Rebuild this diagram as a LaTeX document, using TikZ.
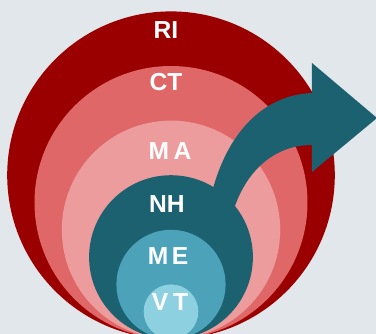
\documentclass[tikz,border=0pt]{standalone}
\usepackage{fontspec}
\setmainfont{Liberation Sans}
\definecolor{bgc}{HTML}{E1E7EA}
\definecolor{ri}{HTML}{9A0000}
\definecolor{ct}{HTML}{E06767}
\definecolor{ma}{HTML}{EC9C9C}
\definecolor{nh}{HTML}{1C6170}
\definecolor{me}{HTML}{4CA3B9}
\definecolor{vt}{HTML}{8DD1E1}
\begin{document}
\begin{tikzpicture}[x=0.3mm,y=-0.3mm,
	lbl/.style={text=white,inner sep=0pt,font=\fontsize{21}{25}\selectfont\bfseries}]
	\useasboundingbox (0,0) rectangle (376,334);
	\fill[bgc] (0,0) rectangle (376,334);
	\clip (0,0) rectangle (376,334);
	% nested rings, all touching at the bottom
	\foreach \k/\c in {6/ri,5/ct,4/ma,3/nh,2/me,1/vt}
		\fill[\c] (171,{339-27.3*\k}) circle ({27.3*\k});
	% curved arrow out of NH
	\fill[nh] (208,210) .. controls (222,135) and (262,95) .. (312,93)
		-- (312,63) -- (377,118) -- (312,172) -- (312,145)
		.. controls (275,145) and (245,170) .. (232,215) -- cycle;
	\node[lbl] (ri) at (166,30) {RI};
	\node[lbl] (ct) at (166,82) {CT};
	\node[lbl] (ma) at (170,151) {M\kern4pt A};
	\node[lbl] (nh) at (167,204) {NH};
	\node[lbl] (me) at (168,256) {M\kern3pt E};
	\node[lbl] (vt) at (170,302) {V\kern4pt T};
\end{tikzpicture}
\end{document}
